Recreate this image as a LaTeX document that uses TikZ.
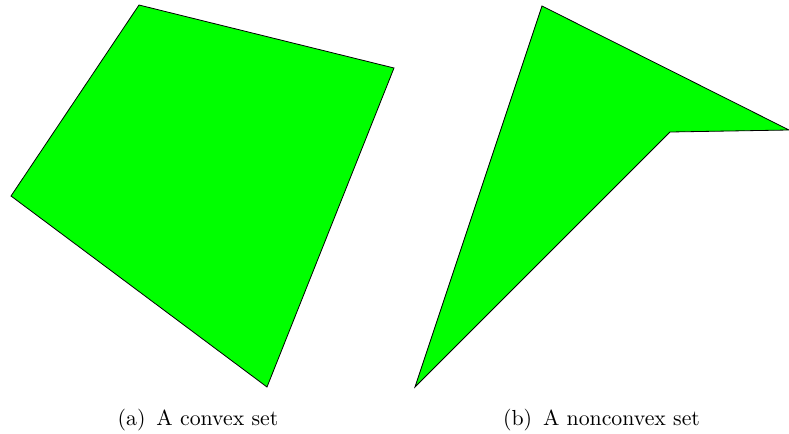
\documentclass[tikz,border=0pt]{standalone}
\usepackage{amsmath,amssymb}
\usepackage{tikz}

\begin{document}
\begin{tikzpicture}[x=0.5pt,y=-0.5pt,
  setfill/.style={fill=green,draw=black,line width=0.4pt,line join=miter},
  subcap/.style={anchor=base,inner sep=0pt,font=\fontsize{10.9}{13}\selectfont}]
\useasboundingbox (0,0) rectangle (789,434);
\draw[setfill] (139,5)--(394,68)--(267,387)--(11,196)--cycle;
\draw[setfill] (542,6)--(789,130)--(670,132)--(415,387)--cycle;
\node[subcap] (capa) at (198,425) {(a)\enskip A convex set};
\node[subcap] (capb) at (601.5,425) {(b)\enskip A nonconvex set};
\end{tikzpicture}
\end{document}
